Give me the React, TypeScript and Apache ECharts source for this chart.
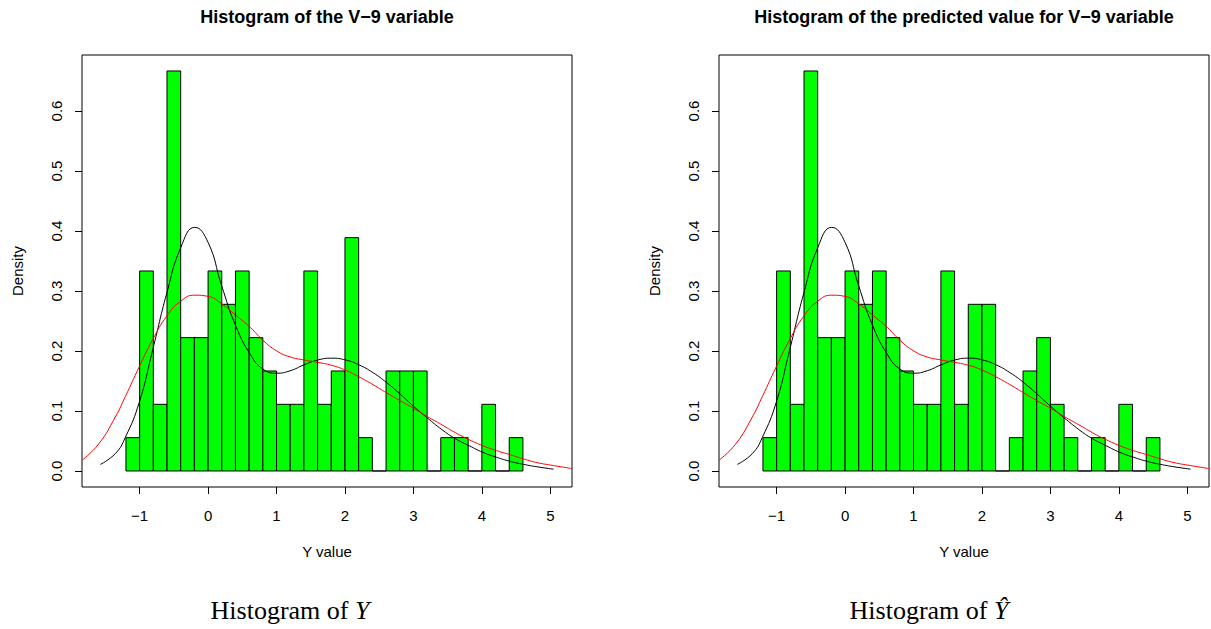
import React, { useEffect, useRef } from "react";
import * as echarts from "echarts";

// Histogram bins (left edges), width 0.2, 90 observations
const BIN_LEFT = [-1.2, -1.0, -0.8, -0.6, -0.4, -0.2, 0.0, 0.2, 0.4, 0.6, 0.8, 1.0, 1.2, 1.4, 1.6, 1.8, 2.0, 2.2, 2.4, 2.6, 2.8, 3.0, 3.2, 3.4, 3.6, 3.8, 4.0, 4.2, 4.4];
const BIN_WIDTH = 0.2;
const N_OBS = 90;
const COUNTS_Y = [1, 6, 2, 12, 4, 4, 6, 5, 6, 4, 3, 2, 2, 6, 2, 3, 7, 1, 0, 3, 3, 3, 0, 1, 1, 0, 2, 0, 1];
const COUNTS_YHAT = [1, 6, 2, 12, 4, 4, 6, 5, 6, 4, 3, 2, 2, 6, 2, 5, 5, 0, 1, 3, 4, 2, 1, 0, 1, 0, 2, 0, 1];

// Black density curve
const BLACK_X = [-1.574, -1.355, -1.209, -1.004, -0.809, -0.604, -0.4, -0.195, 0.0, 0.195, 0.4, 0.619, 0.8, 1.004, 1.199, 1.404, 1.603, 1.808, 2.008, 2.203, 2.408, 2.612, 2.807, 3.01, 3.197, 3.416, 3.611, 3.816, 4.016, 4.211, 4.415, 4.61, 4.805, 5.049];
const BLACK_Y = [0.011, 0.029, 0.056, 0.115, 0.202, 0.296, 0.372, 0.406, 0.381, 0.31, 0.243, 0.194, 0.17, 0.163, 0.167, 0.177, 0.185, 0.188, 0.185, 0.177, 0.164, 0.147, 0.128, 0.107, 0.089, 0.069, 0.054, 0.042, 0.031, 0.023, 0.016, 0.011, 0.007, 0.003];

// Red density curve
const RED_X = [-1.842, -1.598, -1.355, -1.209, -1.004, -0.809, -0.604, -0.4, -0.195, 0.0, 0.195, 0.4, 0.619, 0.8, 1.004, 1.199, 1.404, 1.603, 1.808, 2.008, 2.203, 2.408, 2.612, 2.807, 3.01, 3.197, 3.416, 3.611, 3.816, 4.016, 4.211, 4.415, 4.61, 4.805, 5.049, 5.317];
const RED_Y = [0.018, 0.045, 0.09, 0.124, 0.174, 0.219, 0.258, 0.283, 0.293, 0.291, 0.279, 0.26, 0.239, 0.218, 0.2, 0.19, 0.185, 0.181, 0.176, 0.168, 0.157, 0.144, 0.13, 0.117, 0.104, 0.091, 0.077, 0.064, 0.052, 0.042, 0.034, 0.027, 0.02, 0.014, 0.009, 0.004];

const X_TICKS = [-1, 0, 1, 2, 3, 4, 5];
const Y_TICKS = [0, 0.1, 0.2, 0.3, 0.4, 0.5, 0.6];
const TITLES = ["Histogram of the V\u22129 variable", "Histogram of the predicted value for V\u22129 variable"];
const X_NAME = "Y value";
const Y_NAME = "Density";

const X_MIN = -1.842;
const X_MAX = 5.317;
const Y_MIN = -0.0267;
const Y_MAX = 0.6933;

const FONT = "'Liberation Sans', Arial, Helvetica, sans-serif";
const SERIF = "'Liberation Serif', 'DejaVu Serif', serif";

const GRID_LEFTS = [82, 719];
const GRID_W = 490;
const GRID_TOP = 55;
const GRID_H = 432;

function hist(counts: number[]) {
  return BIN_LEFT.map((x0, i) => [x0, x0 + BIN_WIDTH, counts[i] / (N_OBS * BIN_WIDTH)]);
}

function fmtX(v: number) {
  return v < 0 ? "\u2212" + Math.abs(v) : String(v);
}

export default function App() {
  const ref = useRef<HTMLDivElement>(null);
  useEffect(() => {
    if (!ref.current) return;
    const chart = echarts.init(ref.current, undefined, { renderer: "svg" });
    const panels = [COUNTS_Y, COUNTS_YHAT];
    const series: any[] = [];
    panels.forEach((counts, i) => {
      series.push({
        type: "custom",
        xAxisIndex: i,
        yAxisIndex: i,
        data: hist(counts),
        encode: { x: [0, 1], y: 2 },
        renderItem: (params: any, api: any) => {
          const x0 = api.value(0);
          const x1 = api.value(1);
          const y = api.value(2);
          const p0 = api.coord([x0, y]);
          const p1 = api.coord([x1, 0]);
          return {
            type: "rect",
            shape: { x: p0[0], y: p0[1], width: p1[0] - p0[0], height: p1[1] - p0[1] },
            style: { fill: "#00FF00", stroke: "#000", lineWidth: 1 },
          };
        },
      });
      series.push({
        type: "line",
        xAxisIndex: i,
        yAxisIndex: i,
        data: BLACK_X.map((x, k) => [x, BLACK_Y[k]]),
        showSymbol: false,
        smooth: 0.5,
        lineStyle: { color: "#000", width: 1 },
        clip: true,
      });
      series.push({
        type: "line",
        xAxisIndex: i,
        yAxisIndex: i,
        data: RED_X.map((x, k) => [x, RED_Y[k]]),
        showSymbol: false,
        smooth: 0.5,
        lineStyle: { color: "#FF0000", width: 1 },
        clip: true,
      });
    });

    const option: any = {
      animation: false,
      backgroundColor: "#fff",
      grid: GRID_LEFTS.map((l) => ({
        left: l,
        top: GRID_TOP,
        width: GRID_W,
        height: GRID_H,
        show: true,
        borderColor: "#000",
        borderWidth: 1,
        backgroundColor: "transparent",
        containLabel: false,
      })),
      xAxis: [0, 1].map((i) => ({
        type: "value",
        gridIndex: i,
        min: X_MIN,
        max: X_MAX,
        position: "bottom",
        axisLine: { show: false, onZero: false },
        axisTick: { show: true, customValues: X_TICKS, length: 7, inside: false, lineStyle: { color: "#000", width: 1 } },
        axisLabel: { customValues: X_TICKS, margin: 21, fontSize: 15, color: "#000", fontFamily: FONT, formatter: (v: number) => fmtX(v) },
        splitLine: { show: false },
        name: X_NAME,
        nameLocation: "middle",
        nameGap: 57,
        nameTextStyle: { fontSize: 15, color: "#000", fontFamily: FONT },
      })),
      yAxis: [0, 1].map((i) => ({
        type: "value",
        gridIndex: i,
        min: Y_MIN,
        max: Y_MAX,
        position: "left",
        axisLine: { show: false, onZero: false },
        axisTick: { show: true, customValues: Y_TICKS, length: 7, inside: false, lineStyle: { color: "#000", width: 1 } },
        axisLabel: {
          customValues: Y_TICKS,
          margin: 18,
          rotate: 90,
          align: "center",
          verticalAlign: "bottom",
          fontSize: 15,
          color: "#000",
          fontFamily: FONT,
          formatter: (v: number) => v.toFixed(1),
        },
        splitLine: { show: false },
        name: Y_NAME,
        nameLocation: "middle",
        nameGap: 57,
        nameTextStyle: { fontSize: 15, color: "#000", fontFamily: FONT },
      })),
      graphic: [
        ...TITLES.map((t, i) => ({
          type: "text",
          x: GRID_LEFTS[i] + GRID_W / 2,
          y: 17,
          style: { text: t, align: "center", verticalAlign: "middle", fill: "#000", font: `bold 18px ${FONT}` },
        })),
        {
          type: "text",
          x: 290,
          y: 610,
          style: {
            text: "{a|Histogram of }{b|Y}",
            align: "center",
            verticalAlign: "middle",
            rich: {
              a: { fontFamily: SERIF, fontSize: 26, fill: "#000" },
              b: { fontFamily: SERIF, fontSize: 26, fontStyle: "italic", fill: "#000" },
            },
          },
        },
        {
          type: "text",
          x: 929,
          y: 610,
          style: {
            text: "{a|Histogram of }{b|\u0176}",
            align: "center",
            verticalAlign: "middle",
            rich: {
              a: { fontFamily: SERIF, fontSize: 26, fill: "#000" },
              b: { fontFamily: SERIF, fontSize: 26, fontStyle: "italic", fill: "#000" },
            },
          },
        },
      ],
      series,
    };
    chart.setOption(option);
    return () => chart.dispose();
  }, []);
  return <div ref={ref} style={{ position: "absolute", left: 0, top: 0, width: 1211, height: 629 }} />;
}
